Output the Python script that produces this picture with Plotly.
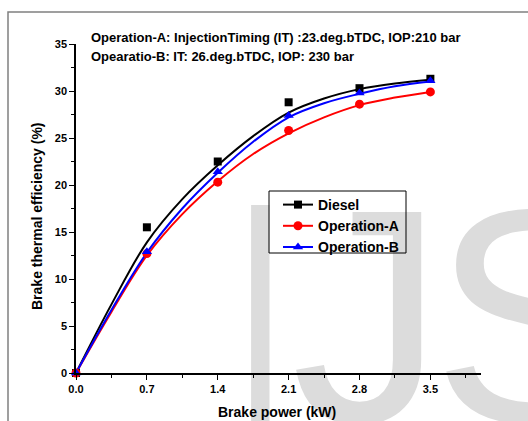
import plotly.graph_objects as go

# measured points
bp = [0.0, 0.7, 1.4, 2.1, 2.8, 3.5]
diesel = [0.0, 15.5, 22.5, 28.8, 30.3, 31.3]
op_a = [0.0, 12.7, 20.3, 25.8, 28.6, 29.9]
op_b = [0.0, 12.9, 21.4, 27.4, 29.8, 31.1]

# fitted curves
cx = [0.0, 0.35, 0.7, 1.05, 1.4, 1.75, 2.1, 2.45, 2.8, 3.15, 3.5]
diesel_fit = [0.0, 7.3, 13.9, 18.5, 22.1, 25.2, 27.7, 29.2, 30.2, 30.8, 31.2]
op_a_fit = [0.0, 6.5, 12.5, 16.9, 20.4, 23.3, 25.5, 27.2, 28.5, 29.3, 29.9]
op_b_fit = [0.0, 6.7, 12.8, 17.5, 21.3, 24.6, 27.2, 28.7, 29.7, 30.5, 31.0]

names = ["Diesel", "Operation-A", "Operation-B"]
colors = ["#000000", "#ff0000", "#0000ff"]
symbols = ["square", "circle", "triangle-up"]
msizes = [8, 9, 9]

xticks = [0.0, 0.7, 1.4, 2.1, 2.8, 3.5]
xticklabels = ["0.0", "0.7", "1.4", "2.1", "2.8", "3.5"]
yticks = [0, 5, 10, 15, 20, 25, 30, 35]

# watermark letters
wm_i_x = [1.82]
wm_js_text = ["J", "S"]
wm_js_x = [2.88, 3.52]
wm_y = 2.92

FONT = "Liberation Sans, Arial, sans-serif"

def px(xp):
    return (xp - 76) / 405.0

def py(yp):
    return (373 - yp) / 329.0

fig = go.Figure()

fig.add_trace(go.Scatter(
    x=wm_i_x, y=[wm_y], text=["I"], mode="text", textposition="middle center",
    textfont=dict(family="Roboto", size=305, color="#dcdcdc", weight=300),
    cliponaxis=False, showlegend=False, hoverinfo="skip"))
fig.add_trace(go.Scatter(
    x=wm_js_x, y=[wm_y, wm_y], text=wm_js_text, mode="text",
    textposition=["middle center", "middle right"],
    textfont=dict(family=FONT, size=305, color="#dcdcdc"),
    cliponaxis=False, showlegend=False, hoverinfo="skip"))

for fit, col in zip([diesel_fit, op_a_fit, op_b_fit], colors):
    fig.add_trace(go.Scatter(x=cx, y=fit, mode="lines", line=dict(color=col, width=2, shape="spline"),
                             showlegend=False, cliponaxis=False))

for data, col, sym, ms in zip([diesel, op_a, op_b], colors, symbols, msizes):
    fig.add_trace(go.Scatter(x=bp, y=data, mode="markers",
                             marker=dict(color=col, symbol=sym, size=ms),
                             showlegend=False, cliponaxis=False))

for name, col, sym, ms in zip(names, colors, symbols, msizes):
    fig.add_trace(go.Scatter(x=[None], y=[None], mode="lines+markers", name=name,
                             line=dict(color=col, width=2),
                             marker=dict(color=col, symbol=sym, size=ms)))

axis_common = dict(showline=True, linecolor="black", linewidth=1.5, ticks="outside",
                   ticklen=5, tickwidth=1.2, tickcolor="black", showgrid=False, zeroline=False,
                   automargin=False,
                   tickfont=dict(family=FONT, size=11, color="black", weight="bold"))

fig.update_xaxes(range=[0, 4.0], tickvals=xticks, ticktext=xticklabels,
                 minor=dict(dtick=0.35, tick0=0, ticklen=3, ticks="outside", tickcolor="black"),
                 **axis_common)
fig.update_yaxes(range=[0, 35], tickvals=yticks,
                 minor=dict(dtick=2.5, tick0=0, ticklen=3, ticks="outside", tickcolor="black"),
                 **axis_common)

fig.add_annotation(xref="paper", yref="paper", x=px(277), y=py(412),
                   xanchor="center", yanchor="middle", showarrow=False,
                   text="Brake power (kW)",
                   font=dict(family=FONT, size=14, color="black", weight="bold"))
fig.add_annotation(xref="paper", yref="paper", x=px(37), y=py(216),
                   xanchor="center", yanchor="middle", showarrow=False, textangle=-90,
                   text="Brake thermal efficiency (%)",
                   font=dict(family=FONT, size=14, color="black", weight="bold"))

fig.add_annotation(xref="paper", yref="paper", x=px(89), y=py(38),
                   xanchor="left", yanchor="middle", showarrow=False,
                   text="Operation-A: InjectionTiming (IT) :23.deg.bTDC, IOP:210 bar",
                   font=dict(family=FONT, size=13, color="black", weight="bold"))
fig.add_annotation(xref="paper", yref="paper", x=px(89), y=py(56),
                   xanchor="left", yanchor="middle", showarrow=False,
                   text="Opearatio-B: IT: 26.deg.bTDC, IOP: 230 bar",
                   font=dict(family=FONT, size=13, color="black", weight="bold"))

# outer frame
fig.add_shape(type="rect", xref="paper", yref="paper",
              x0=px(8), x1=2.0, y0=-0.5, y1=py(12),
              line=dict(color="#808080", width=1.5), fillcolor="rgba(0,0,0,0)", layer="below")
# legend border
fig.add_shape(type="rect", xref="paper", yref="paper",
              x0=px(269), x1=px(406), y0=py(253), y1=py(191),
              line=dict(color="black", width=1), fillcolor="rgba(0,0,0,0)", layer="above")

fig.update_layout(
    width=528, height=421,
    margin=dict(l=76, r=47, t=44, b=48),
    paper_bgcolor="white", plot_bgcolor="rgba(0,0,0,0)",
    font=dict(family=FONT, color="black"),
    legend=dict(x=px(278), y=py(189), xanchor="left", yanchor="top",
                bgcolor="rgba(0,0,0,0)", borderwidth=0,
                font=dict(family=FONT, size=14, color="black", weight="bold"),
                itemwidth=30, tracegroupgap=0),
    showlegend=True,
)

fig.write_html("out.html")
